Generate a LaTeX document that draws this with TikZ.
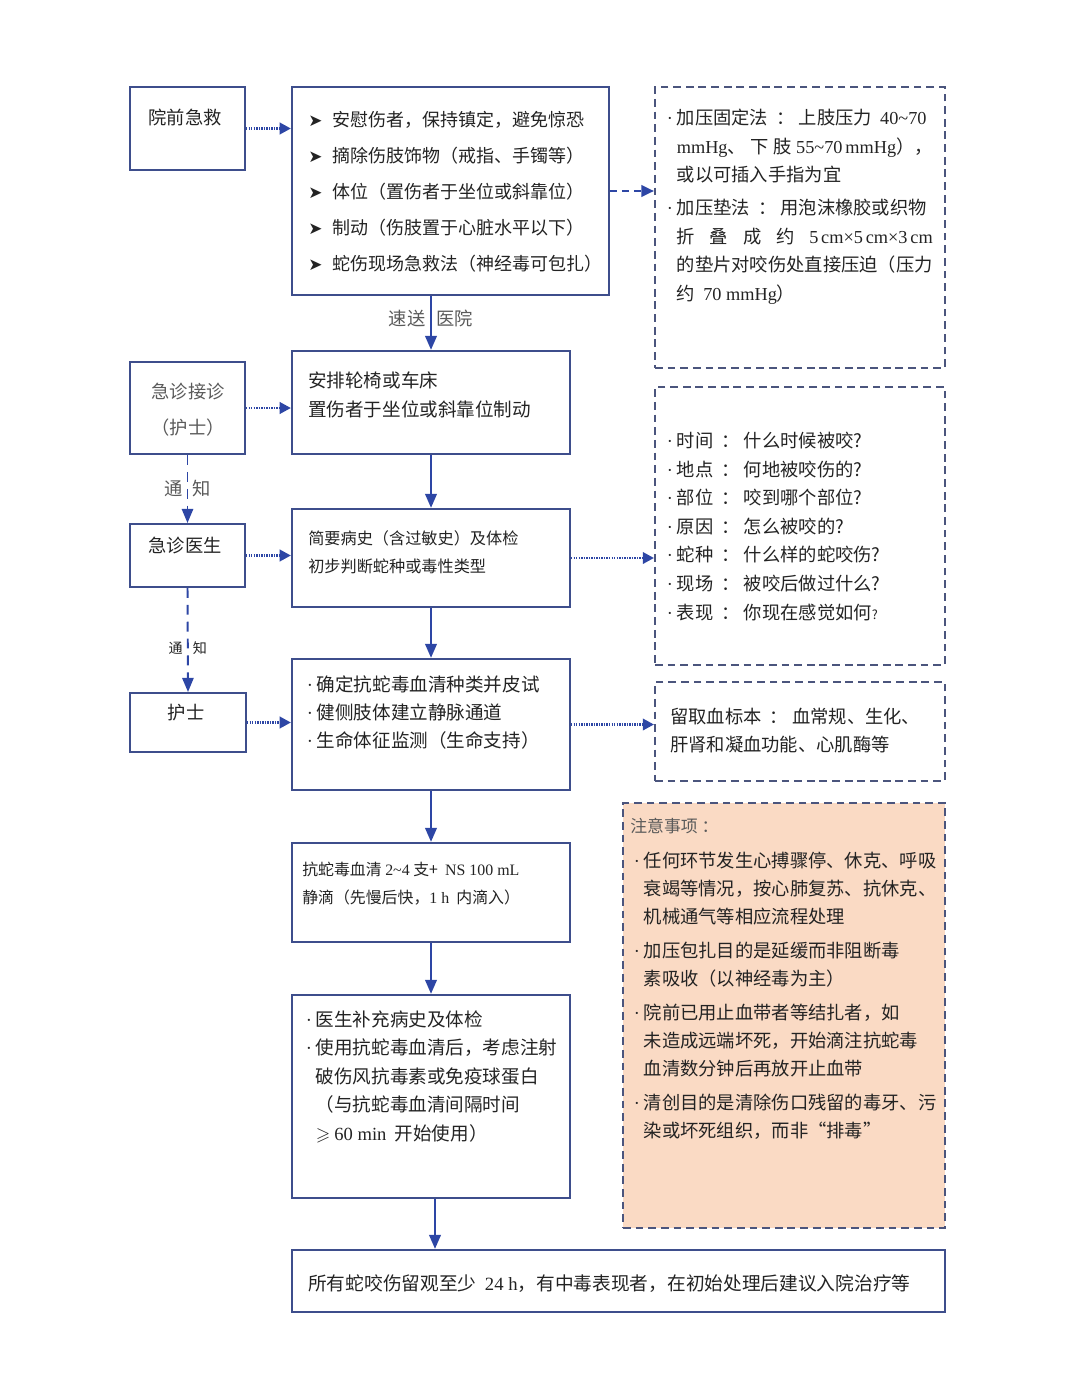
\documentclass[tikz,border=0pt]{standalone}
\usepackage{fontspec}
\usepackage{amssymb}
\setmainfont{Noto Sans CJK SC}
\newfontfamily\tnr{Liberation Serif}
\newfontfamily\dingfont{DejaVu Sans}
\usetikzlibrary{arrows.meta}
\definecolor{boxblue}{RGB}{62,78,140}
\definecolor{arrblue}{RGB}{45,70,165}
\definecolor{dashgray}{RGB}{75,85,125}
\definecolor{notefill}{RGB}{250,218,196}
\definecolor{ink}{RGB}{35,35,35}
\definecolor{softink}{RGB}{90,90,90}
\newcommand{\blt}{\makebox[7.5pt][l]{\tnr\kern0.5pt·}}
\newcommand{\ind}{\hspace*{7.5pt}}
\newcommand{\tip}{\makebox[17pt][l]{\dingfont\fontsize{12pt}{12pt}\selectfont ➤}}

\begin{document}
\begin{tikzpicture}[x=0.025cm, y=-0.025cm,
    solidbox/.style={draw=boxblue, line width=1.4pt, inner sep=0pt},
    dashbox/.style={draw=dashgray, line width=1.3pt, dash pattern=on 5.5pt off 3.5pt, inner sep=0pt},
    txt/.style={inner sep=0pt, anchor=north west, align=left, text=ink},
    lbl/.style={inner sep=0pt, text=ink, font=\fontsize{13pt}{13pt}\selectfont},
    arr/.style={draw=arrblue, line width=2pt, -{Triangle[length=10pt, width=8pt]}},
    dotarr/.style={draw=arrblue, line width=2pt, dash pattern=on 1pt off 0.8pt, -{Triangle[length=8pt, width=8pt]}},
    dasharr/.style={draw=arrblue, line width=2pt, dash pattern=on 5pt off 3.5pt, -{Triangle[length=9pt, width=8pt]}},
    notearr/.style={draw=arrblue, line width=1.4pt, dash pattern=on 7pt off 5pt, -{Triangle[length=10pt, width=8pt]}}]
    \useasboundingbox (0,0) rectangle (1080,1400);
    % Left column
    \node[solidbox, minimum width=2.875cm, minimum height=2.075cm] (prehosp) at (187.5,128.5) {};
    \node[solidbox, minimum width=2.875cm, minimum height=2.3cm] (triage) at (187.5,408) {};
    \node[solidbox, minimum width=2.875cm, minimum height=1.575cm] (doctor) at (187.5,555.5) {};
    \node[solidbox, minimum width=2.9cm, minimum height=1.475cm] (nurse) at (188,722.5) {};
    % Main column
    \node[solidbox, minimum width=7.925cm, minimum height=5.2cm] (firstaid) at (450.5,191) {};
    \node[solidbox, minimum width=6.95cm, minimum height=2.575cm] (transfer) at (431,402.5) {};
    \node[solidbox, minimum width=6.95cm, minimum height=2.45cm] (history) at (431,558) {};
    \node[solidbox, minimum width=6.95cm, minimum height=3.275cm] (antiven) at (431,724.5) {};
    \node[solidbox, minimum width=6.95cm, minimum height=2.475cm] (drip) at (431,892.5) {};
    \node[solidbox, minimum width=6.95cm, minimum height=5.075cm] (tetanus) at (431,1096.5) {};
    \node[solidbox, minimum width=16.325cm, minimum height=1.55cm] (observe) at (618.5,1281) {};
    % Right column
    \node[dashbox, minimum width=7.25cm, minimum height=7.025cm] (pressure) at (800,227.5) {};
    \node[dashbox, minimum width=7.25cm, minimum height=6.95cm] (askwho) at (800,526) {};
    \node[dashbox, minimum width=7.25cm, minimum height=2.475cm] (blood) at (800,731.5) {};
    \node[dashbox, fill=notefill, minimum width=8.05cm, minimum height=10.625cm] (caution) at (784,1015.5) {};

    % Left labels
    \node[lbl] (prehospt) at (185,117) {院前急救};
    \node[lbl, align=center, text=softink, font=\fontsize{13pt}{25.6pt}\selectfont] (triaget) at (188,410) {急诊接诊\\（护士）};
    \node[lbl] (doctort) at (185,546) {急诊医生};
    \node[lbl] (nurset) at (186,713) {护士};

    % Main texts
    \node[txt, font=\fontsize{12.8pt}{25.6pt}\selectfont] (firstaidt) at (308,111) {%
      \tip 安慰伤者，保持镇定，避免惊恐\\
      \tip 摘除伤肢饰物（戒指、手镯等）\\
      \tip 体位（置伤者于坐位或斜靠位）\\
      \tip 制动（伤肢置于心脏水平以下）\\
      \tip 蛇伤现场急救法（神经毒可包扎）};
    \node[txt, font=\fontsize{13.2pt}{20.6pt}\selectfont] (transfert) at (308,372) {%
      安排轮椅或车床\\
      置伤者于坐位或斜靠位制动};
    \node[txt, font=\fontsize{11.5pt}{19.9pt}\selectfont] (historyt) at (308,530) {%
      简要病史（含过敏史）及体检\\
      初步判断蛇种或毒性类型};
    \node[txt, font=\fontsize{13.2pt}{20pt}\selectfont] (antivent) at (306,675) {%
      \blt 确定抗蛇毒血清种类并皮试\\
      \blt 健侧肢体建立静脉通道\\
      \blt 生命体征监测（生命支持）};
    \node[txt, font=\fontsize{11.3pt}{19.9pt}\selectfont] (dript) at (302,862) {%
      抗蛇毒血清 {\tnr 2\textasciitilde4} 支+ \ {\tnr NS 100 mL}\\
      静滴（先慢后快，{\tnr 1 h} \ 内滴入）};
    \node[txt, font=\fontsize{13.2pt}{20.3pt}\selectfont] (tetanust) at (305,1010) {%
      \blt 医生补充病史及体检\\
      \blt 使用抗蛇毒血清后，考虑注射\\
      \ind 破伤风抗毒素或免疫球蛋白\\
      \ind （与抗蛇毒血清间隔时间\\
      \ind $\geqslant$ {\tnr 60 min} \ 开始使用）};
    \node[lbl, anchor=west, font=\fontsize{13.3pt}{13.3pt}\selectfont] (observet) at (308,1284) {%
      所有蛇咬伤留观至少 \ {\tnr 24 h}，有中毒表现者，在初始处理后建议入院治疗等};

    % Right texts
    \node[txt, font=\fontsize{13pt}{20.3pt}\selectfont] (pressuret) at (666,109) {%
      \blt 加压固定法 \ ： 上肢压力 \ {\tnr 40\textasciitilde70}\\
      \ind\makebox[182pt][s]{{\tnr mmHg}、 下 肢 {\tnr 55\textasciitilde70\kern2pt mmHg}），}\\
      \ind 或以可插入手指为宜\\[3pt]
      \blt 加压垫法 \ ： 用泡沫橡胶或织物\\
      \ind\makebox[182pt][s]{折 叠 成 约 {\tnr 5\kern2pt cm×5\kern2pt cm×3\kern2pt cm}}\\
      \ind 的垫片对咬伤处直接压迫（压力\\
      \ind 约 \ {\tnr 70 mmHg}）};
    \node[txt, font=\fontsize{13pt}{20.3pt}\selectfont] (askwhot) at (666,432) {%
      \blt 时间 \ ： 什么时候被咬?\\
      \blt 地点 \ ： 何地被咬伤的?\\
      \blt 部位 \ ： 咬到哪个部位?\\
      \blt 原因 \ ： 怎么被咬的?\\
      \blt 蛇种 \ ： 什么样的蛇咬伤?\\
      \blt 现场 \ ： 被咬后做过什么?\\
      \blt 表现 \ ： 你现在感觉如何{\fontsize{9pt}{9pt}\selectfont ?}};
    \node[txt, font=\fontsize{13pt}{20pt}\selectfont] (bloodt) at (670,708) {%
      留取血标本 \ ： 血常规、生化、\\
      肝肾和凝血功能、心肌酶等};
    \node[lbl, anchor=west, text=softink, font=\fontsize{12pt}{12pt}\selectfont] (cautionh) at (630,826) {注意事项 ：};
    \node[txt, font=\fontsize{13pt}{20pt}\selectfont] (cautiont) at (633,852) {%
      \blt 任何环节发生心搏骤停、休克、呼吸\\
      \ind 衰竭等情况，按心肺复苏、抗休克、\\
      \ind 机械通气等相应流程处理\\[4pt]
      \blt 加压包扎目的是延缓而非阻断毒\\
      \ind 素吸收（以神经毒为主）\\[4pt]
      \blt 院前已用止血带者等结扎者，如\\
      \ind 未造成远端坏死，开始滴注抗蛇毒\\
      \ind 血清数分钟后再放开止血带\\[4pt]
      \blt 清创目的是清除伤口残留的毒牙、污\\
      \ind 染或坏死组织，而非“排毒”};

    % Arrows
    \draw[dotarr] (prehosp.east) -- (prehosp.east -| firstaid.west);
    \draw[dasharr] (firstaid.east) -- (firstaid.east -| pressure.west);
    \draw[arr] (firstaid.south -| transfer.north) --
      node[pos=0.41, left=3pt, lbl, text=softink] (sendl) {速送}
      node[pos=0.41, right=3pt, lbl, text=softink] (sendr) {医院} (transfer.north);
    \draw[dotarr] (triage.east) -- (triage.east -| transfer.west);
    \draw[notearr] (triage.south) --
      node[pos=0.5, left=3pt, lbl, text=softink] (tell1l) {通}
      node[pos=0.5, right=3pt, lbl, text=softink] (tell1r) {知} (doctor.north);
    \draw[arr] (transfer.south) -- (history.north);
    \draw[dotarr] (doctor.east) -- (doctor.east -| history.west);
    \draw[dotarr] (history.east) -- (history.east -| askwho.west);
    \draw[notearr] (doctor.south) --
      node[pos=0.58, left=3pt, lbl, font=\fontsize{10pt}{10pt}\selectfont] (tell2l) {通}
      node[pos=0.58, right=3pt, lbl, font=\fontsize{10pt}{10pt}\selectfont] (tell2r) {知} (nurse.north);
    \draw[arr] (history.south) -- (antiven.north);
    \draw[dotarr] (nurse.east) -- (nurse.east -| antiven.west);
    \draw[dotarr] (antiven.east) -- (antiven.east -| blood.west);
    \draw[arr] (antiven.south) -- (drip.north);
    \draw[arr] (drip.south) -- (tetanus.north);
    \draw[arr] ([xshift=0.1cm]tetanus.south) -- ([xshift=0.1cm]tetanus.south |- observe.north);
\end{tikzpicture}
\end{document}
